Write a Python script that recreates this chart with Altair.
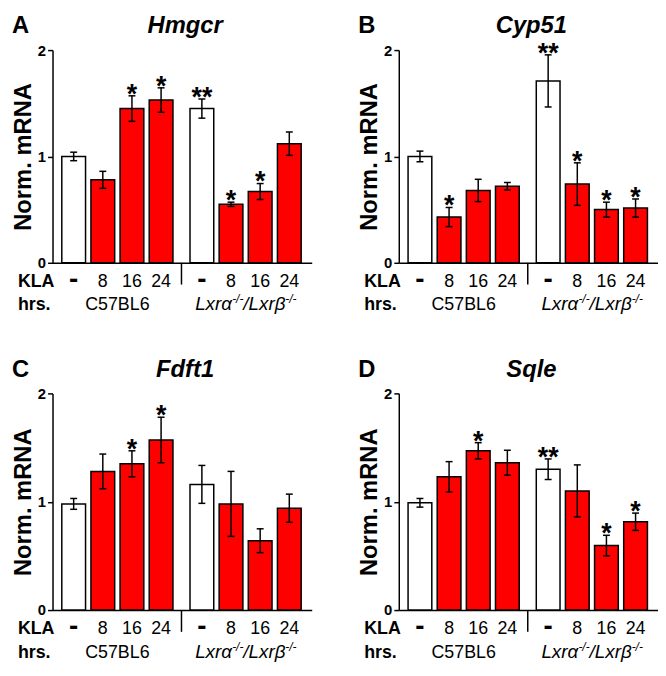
import altair as alt
import pandas as pd

FONT = "Liberation Sans"

genes = ["Hmgcr", "Cyp51", "Fdft1", "Sqle"]
letters = ["A", "B", "C", "D"]
kla = ["-", "8", "16", "24", "-", "8", "16", "24"]
group_names = ["C57BL6"]
row_names = ["KLA", "hrs."]

means_hmgcr = [1.00, 0.78, 1.45, 1.53, 1.45, 0.55, 0.67, 1.12]
means_cyp51 = [1.00, 0.43, 0.68, 0.72, 1.71, 0.74, 0.50, 0.515]
means_fdft1 = [0.98, 1.28, 1.35, 1.57, 1.16, 0.98, 0.64, 0.94]
means_sqle = [0.99, 1.23, 1.47, 1.36, 1.30, 1.10, 0.595, 0.815]

sem_hmgcr = [0.04, 0.08, 0.12, 0.115, 0.09, 0.02, 0.075, 0.11]
sem_cyp51 = [0.05, 0.09, 0.105, 0.035, 0.245, 0.20, 0.07, 0.085]
sem_fdft1 = [0.05, 0.16, 0.12, 0.21, 0.175, 0.30, 0.11, 0.13]
sem_sqle = [0.04, 0.14, 0.075, 0.115, 0.095, 0.24, 0.095, 0.08]

stars_hmgcr = ["", "", "*", "*", "**", "*", "*", ""]
stars_cyp51 = ["", "*", "", "", "**", "*", "*", "*"]
stars_fdft1 = ["", "", "*", "*", "", "", "", ""]
stars_sqle = ["", "", "*", "", "**", "", "*", "*"]

means = [means_hmgcr, means_cyp51, means_fdft1, means_sqle]
sems = [sem_hmgcr, sem_cyp51, sem_fdft1, sem_sqle]
stars = [stars_hmgcr, stars_cyp51, stars_fdft1, stars_sqle]

W = 262
XS = alt.Scale(domain=[-0.556, 8.0], nice=False, zero=False)
YS = alt.Scale(domain=[0, 2], nice=False, zero=True)

X_AXIS = alt.Axis(labels=False, ticks=False, title=None, grid=False,
                  domainColor="black", domainWidth=1.5)
Y_AXIS = alt.Axis(values=[0, 1, 2], labelExpr="'' + datum.value", grid=False,
                  tickSize=5, tickColor="black", tickWidth=1.5,
                  domainColor="black", domainWidth=1.5, labelFont=FONT,
                  labelFontSize=15, labelFontWeight="bold", labelColor="black",
                  labelPadding=2, labelOverlap=False, labelFlush=False,
                  title="Norm. mRNA", titleFont=FONT, titleFontSize=24,
                  titleFontWeight="bold", titleColor="black", titlePadding=2)


def X(f="pos:Q"):
    return alt.X(f, scale=XS, axis=X_AXIS)


def Y(f):
    return alt.Y(f, scale=YS, axis=Y_AXIS)


def panel(i, h, lab_off):
    df = pd.DataFrame({"idx": list(range(8)), "kla": kla, "mean": means[i],
                       "sem": sems[i], "star": stars[i]})
    base = alt.Chart(df).transform_calculate(
        pos="datum.idx + (datum.idx >= 4 ? 0.4 : 0)",
        lo="datum.mean - datum.sem",
        hi="datum.mean + datum.sem",
        fillc="datum.kla == '-' ? 'white' : '#ff0000'",
    )
    bars = base.mark_bar(orient="vertical", size=24, stroke="black",
                         strokeWidth=1.5, opacity=1).encode(
        x=X(), y=Y("mean:Q"), fill=alt.Fill("fillc:N", scale=None))
    rule = base.mark_rule(color="black", strokeWidth=1.5).encode(
        x=X(), y=Y("lo:Q"), y2="hi:Q")
    cap_hi = base.mark_tick(orient="horizontal", size=7, thickness=1.5,
                            color="black", opacity=1).encode(x=X(), y=Y("hi:Q"))
    cap_lo = base.mark_tick(orient="horizontal", size=7, thickness=1.5,
                            color="black", opacity=1).encode(x=X(), y=Y("lo:Q"))
    star = base.transform_filter("datum.star != ''").mark_text(
        font=FONT, fontSize=27, fontWeight="bold", baseline="alphabetic",
        dy=7, color="black").encode(x=X(), y=Y("hi:Q"), text="star:N")
    kla_num = base.transform_filter("datum.kla != '-'").mark_text(
        font=FONT, fontSize=18, baseline="alphabetic", color="black").encode(
        x=X(), y=alt.value(h + 24), text="kla:N")
    kla_dash = base.transform_filter("datum.kla == '-'").mark_text(
        font=FONT, fontSize=28, fontWeight="bold", baseline="alphabetic",
        color="black").encode(x=X(), y=alt.value(h + 25), text="kla:N")

    one = pd.DataFrame({"grp": [0]})
    sep = alt.Chart(one).transform_calculate(pos="3.7").mark_rule(
        color="black", strokeWidth=1.5).encode(
        x=X(), y=alt.value(h), y2=alt.value(h + 22))

    gdf = pd.DataFrame({"name": group_names, "grp": [0]})
    c57 = alt.Chart(gdf).transform_calculate(pos="datum.grp * 4.4 + 1.5").mark_text(
        font=FONT, fontSize=18, baseline="alphabetic", color="black").encode(
        x=X(), y=alt.value(h + lab_off), text="name:N")

    ko_parts = [("Lxr\u03b1", 19, -51, 0), ("-/-", 12, -13.6, -7),
                ("/", 19, -2.3, 0), ("Lxr\u03b2", 19, 3, 0), ("-/-", 12, 40.2, -7)]
    ko_layers = []
    for txt, fs, dx, dy in ko_parts:
        kdf = pd.DataFrame({"t": [txt], "grp": [1]})
        ko_layers.append(
            alt.Chart(kdf).transform_calculate(pos="datum.grp * 4.4 + 1.5").mark_text(
                font=FONT, fontSize=fs, fontStyle="italic", align="left",
                baseline="alphabetic", dx=dx, dy=dy, color="black").encode(
                x=X(), y=alt.value(h + lab_off), text="t:N"))

    row_layers = []
    for name, off in zip(row_names, [24, lab_off]):
        rdf = pd.DataFrame({"t": [name]})
        row_layers.append(alt.Chart(rdf).mark_text(
            font=FONT, fontSize=18, fontWeight="bold", align="left",
            baseline="alphabetic", color="black").encode(
            x=alt.value(-35), y=alt.value(h + off), text="t:N"))

    head = pd.DataFrame({"t": [genes[i]]})
    gene_t = alt.Chart(head).mark_text(
        font=FONT, fontSize=24, fontWeight="bold", fontStyle="italic",
        baseline="alphabetic", align="center", color="black").encode(
        x=alt.value(W / 2 + 3), y=alt.value(-17), text="t:N")
    let = pd.DataFrame({"t": [letters[i]]})
    letter_t = alt.Chart(let).mark_text(
        font=FONT, fontSize=24, fontWeight="bold", baseline="alphabetic",
        align="left", color="black").encode(
        x=alt.value(-41), y=alt.value(-17), text="t:N")

    return alt.layer(bars, rule, cap_hi, cap_lo, star, kla_num, kla_dash, sep,
                     c57, *ko_layers, *row_layers, gene_t, letter_t).properties(
        width=W, height=h)


chart = alt.concat(
    panel(0, 215, 48), panel(1, 215, 48), panel(2, 219, 48), panel(3, 219, 48),
    columns=2, spacing={"row": 132, "column": 88}, bounds="flush",
).properties(
    padding={"top": 3, "left": 3, "right": 0, "bottom": 0}
).configure_view(stroke=None)

chart.save("out.html", embed_options={"renderer": "svg", "actions": False})
